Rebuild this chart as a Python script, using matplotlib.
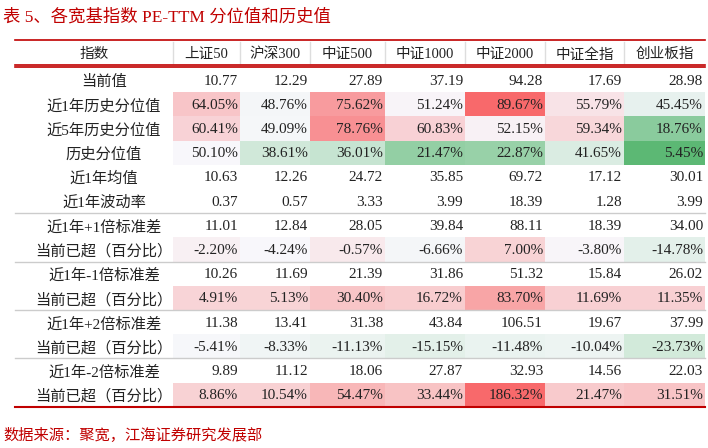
import numpy as np
import matplotlib
matplotlib.use('Agg')
import matplotlib.pyplot as plt
from matplotlib.colors import LinearSegmentedColormap, TwoSlopeNorm
from matplotlib.patches import Rectangle

plt.rcParams['font.family'] = ['Liberation Serif', 'Noto Sans CJK SC']

title = '表 5、各宽基指数 PE-TTM 分位值和历史值'
source = '数据来源：聚宽，江海证券研究发展部'
columns = ['指数', '上证50', '沪深300', '中证500', '中证1000', '中证2000', '中证全指', '创业板指']
row_labels = ['当前值', '近1年历史分位值', '近5年历史分位值', '历史分位值', '近1年均值', '近1年波动率',
              '近1年+1倍标准差', '当前已超（百分比）', '近1年-1倍标准差', '当前已超（百分比）',
              '近1年+2倍标准差', '当前已超（百分比）', '近1年-2倍标准差', '当前已超（百分比）']

current = [10.77, 12.29, 27.89, 37.19, 94.28, 17.69, 28.98]
pct_1y = [64.05, 48.76, 75.62, 51.24, 89.67, 55.79, 45.45]
pct_5y = [60.41, 49.09, 78.76, 60.83, 52.15, 59.34, 18.76]
pct_all = [50.10, 38.61, 36.01, 21.47, 22.87, 41.65, 5.45]
mean_1y = [10.63, 12.26, 24.72, 35.85, 69.72, 17.12, 30.01]
vol_1y = [0.37, 0.57, 3.33, 3.99, 18.39, 1.28, 3.99]
plus1 = [11.01, 12.84, 28.05, 39.84, 88.11, 18.39, 34.00]
over_plus1 = [-2.20, -4.24, -0.57, -6.66, 7.00, -3.80, -14.78]
minus1 = [10.26, 11.69, 21.39, 31.86, 51.32, 15.84, 26.02]
over_minus1 = [4.91, 5.13, 30.40, 16.72, 83.70, 11.69, 11.35]
plus2 = [11.38, 13.41, 31.38, 43.84, 106.51, 19.67, 37.99]
over_plus2 = [-5.41, -8.33, -11.13, -15.15, -11.48, -10.04, -23.73]
minus2 = [9.89, 11.12, 18.06, 27.87, 32.93, 14.56, 22.03]
over_minus2 = [8.86, 10.54, 54.47, 33.44, 186.32, 21.47, 31.51]

rows = [current, pct_1y, pct_5y, pct_all, mean_1y, vol_1y, plus1, over_plus1,
        minus1, over_minus1, plus2, over_plus2, minus2, over_minus2]
pct_rows = [1, 2, 3]
over_rows = [7, 9, 11, 13]

# layout in pixels
col_x = [15, 173, 240, 310, 385, 465, 545, 624, 705]
top_y = 40
head_h = 25
row_h = 24.2
red = '#c00000'
cjk_dy = 2.0  # CJK glyphs sit high next to the serif digits

cmap_pct = LinearSegmentedColormap.from_list('pct', ['#5cb874', '#f8f8fc', '#f8696b'])
cmap_over = LinearSegmentedColormap.from_list('over', ['#d2eada', '#f8f8fc', '#f8b0b1', '#f8696b'])
pv = np.array([rows[i] for i in pct_rows])
norm_pct = TwoSlopeNorm(vmin=pv.min(), vcenter=np.median(pv), vmax=pv.max())
ov = np.array([rows[i] for i in over_rows])
norm_over = TwoSlopeNorm(vmin=ov.min(), vcenter=np.median(ov), vmax=ov.max())

fig = plt.figure(figsize=(7.08, 4.48), dpi=100)
ax = fig.add_axes([0, 0, 1, 1])
ax.set_xlim(0, 708)
ax.set_ylim(448, 0)
ax.axis('off')

ax.text(3, 15 + cjk_dy, title, color=red, fontsize=12.5, va='center', ha='left')

# header
hy = top_y + head_h / 2
for j, c in enumerate(columns):
    ax.text((col_x[j] + col_x[j + 1]) / 2, hy + cjk_dy, c, fontsize=10.5, ha='center', va='center', color='#222222')
for x in col_x[1:-1]:
    ax.plot([x, x], [top_y + 2, top_y + head_h - 2], color='#dddddd', lw=1)
ax.plot([col_x[0], col_x[-1]], [top_y, top_y], color=red, lw=1.2)
ax.plot([col_x[0], col_x[-1]], [top_y + head_h, top_y + head_h], color=red, lw=1.2)
ax.plot([col_x[0], col_x[-1]], [top_y + head_h + 2.5, top_y + head_h + 2.5], color=red, lw=1.2)

y0 = top_y + head_h + 3
for i, (lab, vals) in enumerate(zip(row_labels, rows)):
    yt = y0 + i * row_h
    yc = yt + row_h / 2
    ax.text((col_x[0] + col_x[1]) / 2 + 10, yc + cjk_dy, lab, fontsize=11, ha='center', va='center', color='#222222')
    for j, v in enumerate(vals):
        x0, x1 = col_x[j + 1], col_x[j + 2]
        if i in pct_rows or i in over_rows:
            cm, nm = (cmap_pct, norm_pct) if i in pct_rows else (cmap_over, norm_over)
            ax.add_patch(Rectangle((x0, yt), x1 - x0, row_h, facecolor=cm(nm(v)), edgecolor='none'))
            s = f'{v:.2f}%'
        else:
            s = f'{v:.2f}'
        ax.text(x1 - 2, yc + 1, s, fontsize=11, ha='right', va='center', color='#222222')
    if i in [5, 7, 9, 11]:
        ax.plot([col_x[0], col_x[-1]], [yt + row_h, yt + row_h], color='#cccccc', lw=1)

yb = y0 + len(rows) * row_h
ax.plot([col_x[0], col_x[-1]], [yb, yb], color=red, lw=1.5)
ax.text(3, 433 + cjk_dy, source, color=red, fontsize=11, va='center', ha='left')

fig.savefig('out.png', dpi=100)
